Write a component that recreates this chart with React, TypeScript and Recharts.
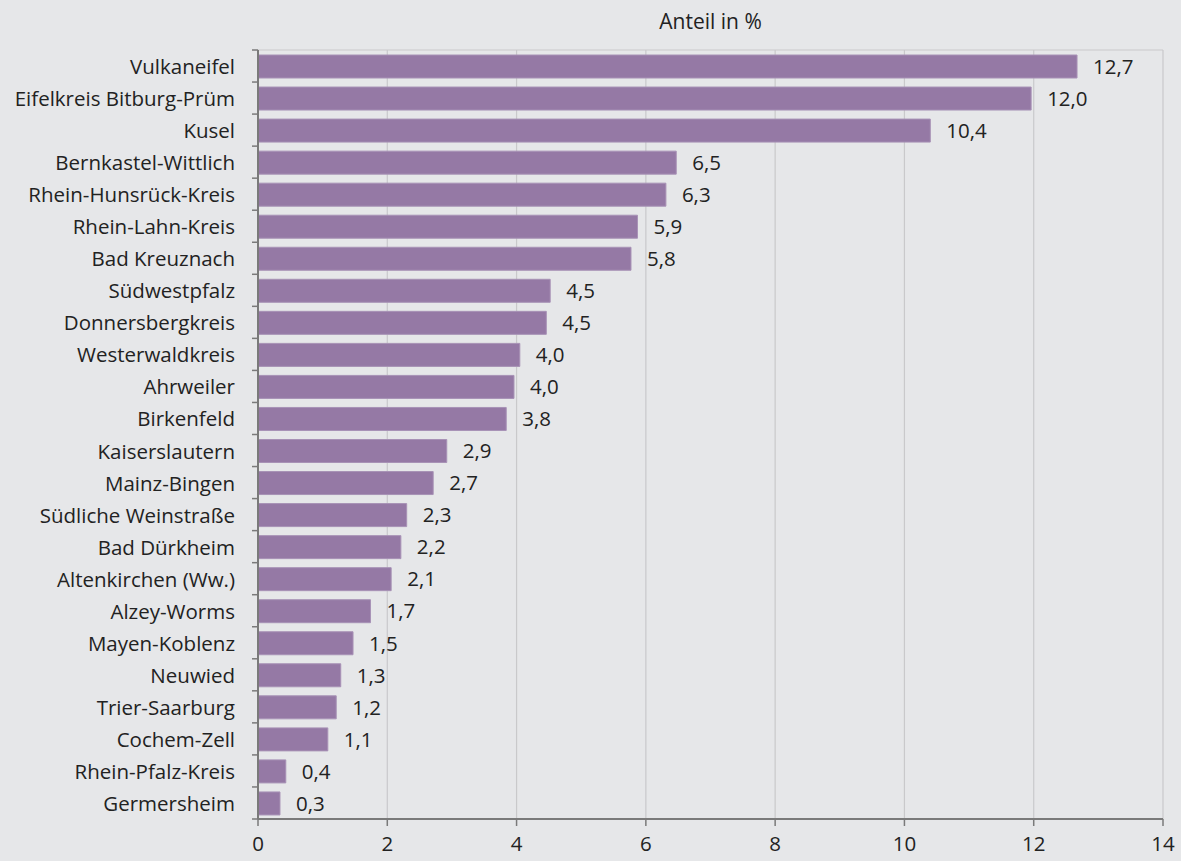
import React from 'react';
import { BarChart, Bar, XAxis, YAxis, CartesianGrid, LabelList } from 'recharts';

const categories = [
  'Vulkaneifel', 'Eifelkreis Bitburg-Prüm', 'Kusel', 'Bernkastel-Wittlich', 'Rhein-Hunsrück-Kreis',
  'Rhein-Lahn-Kreis', 'Bad Kreuznach', 'Südwestpfalz', 'Donnersbergkreis', 'Westerwaldkreis',
  'Ahrweiler', 'Birkenfeld', 'Kaiserslautern', 'Mainz-Bingen', 'Südliche Weinstraße',
  'Bad Dürkheim', 'Altenkirchen (Ww.)', 'Alzey-Worms', 'Mayen-Koblenz', 'Neuwied',
  'Trier-Saarburg', 'Cochem-Zell', 'Rhein-Pfalz-Kreis', 'Germersheim',
];
const values = [
  12.67, 11.96, 10.4, 6.47, 6.31, 5.87, 5.77, 4.52, 4.46, 4.05, 3.96, 3.84,
  2.92, 2.71, 2.3, 2.21, 2.06, 1.74, 1.47, 1.28, 1.21, 1.08, 0.43, 0.34,
];
const xTicks = [0, 2, 4, 6, 8, 10, 12, 14];
const title = 'Anteil in %';

const data = categories.map((name, i) => ({ name, value: values[i] }));

const W = 1181;
const H = 861;
const M = { top: 50, right: 18, bottom: 0, left: 0 };
const Y_W = 258;
const X_H = 42;
const BAND = (H - M.top - M.bottom - X_H) / categories.length;
const FONT = "'Open Sans', sans-serif";
const TEXT = '#222';
const AXIS = '#7a7a7a';
const GRID = '#c9c9cb';

const YTick = (props: any) => {
  const { x, y, payload, index } = props;
  const ax = x + 22;
  return (
    <g>
      <line x1={ax - 6} x2={ax} y1={y - BAND / 2} y2={y - BAND / 2} stroke={AXIS} strokeWidth={1.5} />
      {index === categories.length - 1 && (
        <line x1={ax - 6} x2={ax} y1={y + BAND / 2} y2={y + BAND / 2} stroke={AXIS} strokeWidth={1.5} />
      )}
      <text x={x - 1} y={y} textAnchor="end" dominantBaseline="central" fontFamily={FONT} fontSize={20.5} fill={TEXT}>
        {payload.value}
      </text>
    </g>
  );
};

const XTick = (props: any) => {
  const { x, y, payload } = props;
  return (
    <text x={x} y={y} textAnchor="middle" dominantBaseline="central" fontFamily={FONT} fontSize={20.5} fill={TEXT}>
      {payload.value}
    </text>
  );
};

export default function App() {
  return (
    <div style={{ position: 'absolute', left: 0, top: 0, width: W, height: H, background: '#e6e7e9' }}>
      <div
        style={{
          position: 'absolute', left: Y_W, width: W - Y_W - M.right, top: 8, textAlign: 'center',
          fontFamily: FONT, fontSize: 21, color: TEXT, lineHeight: '26px',
        }}
      >
        {title}
      </div>
      <BarChart width={W} height={H} data={data} layout="vertical" margin={M} barSize={23}>
        <CartesianGrid
          stroke={GRID}
          strokeWidth={1.2}
          horizontalCoordinatesGenerator={({ offset }: any) => [offset.top]}
        />
        <XAxis
          type="number"
          domain={[0, 14]}
          ticks={xTicks}
          height={X_H}
          axisLine={{ stroke: AXIS, strokeWidth: 2 }}
          tickLine={{ stroke: AXIS, strokeWidth: 1.5 }}
          tickSize={7}
          tickMargin={17}
          tick={<XTick />}
        />
        <YAxis
          type="category"
          dataKey="name"
          width={Y_W}
          axisLine={{ stroke: AXIS, strokeWidth: 2 }}
          tickLine={false}
          tick={<YTick />}
          tickMargin={16}
          interval={0}
        />
        <Bar dataKey="value" fill="#9579a5" stroke="#a892b6" strokeWidth={1} isAnimationActive={false}>
          <LabelList
            dataKey="value"
            position="right"
            offset={16}
            formatter={(v: any) => Number(v).toFixed(1).replace('.', ',')}
            style={{ fontFamily: FONT, fontSize: 20.5, fill: TEXT }}
          />
        </Bar>
      </BarChart>
    </div>
  );
}
